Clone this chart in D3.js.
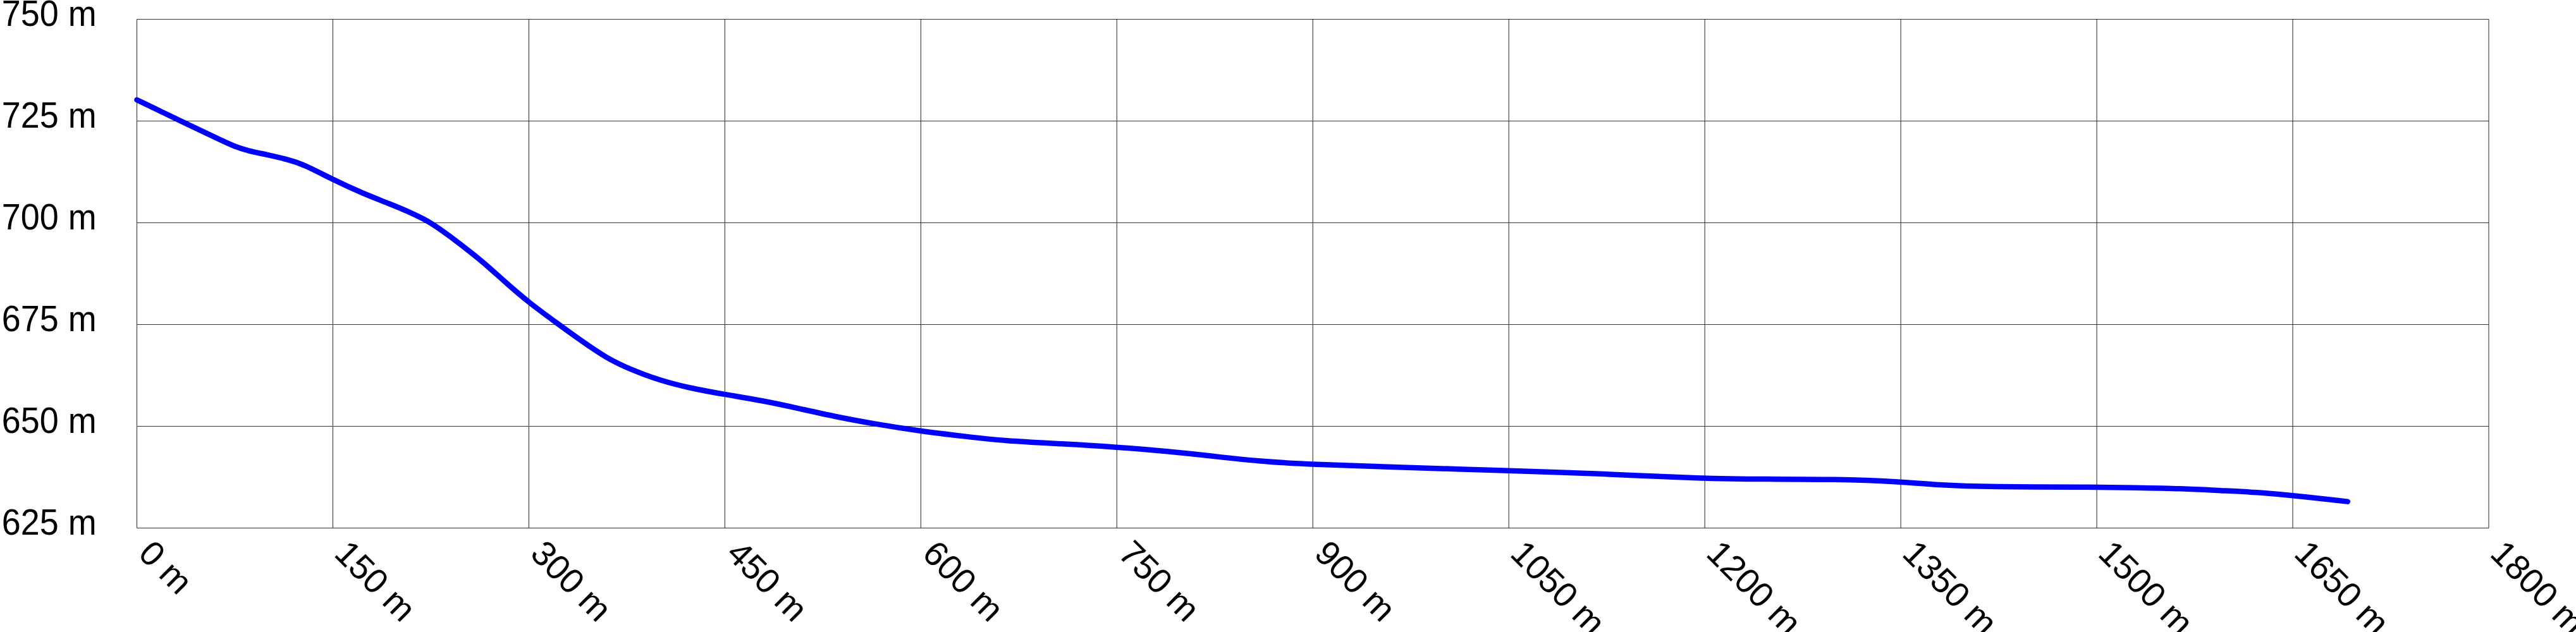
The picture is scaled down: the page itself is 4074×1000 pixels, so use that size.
<!DOCTYPE html>
<html>
<head>
<meta charset="utf-8">
<script src="https://cdn.jsdelivr.net/npm/d3@7"></script>
<style>
  html, body { margin: 0; padding: 0; background: #fff; }
  svg { display: block; }
  text { font-family: "Liberation Sans", Arial, sans-serif; fill: #000; }
</style>
</head>
<body>
<script>
// Data: distance (m) and elevation (m)
const distance = [0, 40, 65, 75, 85, 100, 116, 128, 150, 173, 194, 211, 225, 240, 255, 268, 283, 300, 323, 338, 360, 379, 401, 423, 450, 479, 505, 534, 564, 600, 634, 664, 708, 750, 790, 820, 858, 900, 960, 1050, 1117, 1200, 1247, 1299, 1350, 1376, 1420, 1492, 1530, 1565, 1595, 1623, 1650, 1692];
const elevation = [730.2, 724.0, 720.2, 718.7, 717.7, 716.7, 715.5, 714.3, 710.6, 707.2, 704.6, 702.3, 700.1, 696.6, 692.9, 689.5, 685.1, 680.4, 675.0, 671.5, 666.6, 663.8, 661.2, 659.4, 657.8, 656.3, 654.5, 652.4, 650.6, 648.8, 647.5, 646.4, 645.7, 644.9, 643.8, 642.8, 641.4, 640.6, 640.0, 639.1, 638.4, 637.1, 637.0, 637.0, 636.4, 635.6, 635.1, 635.1, 634.9, 634.7, 634.2, 633.8, 633.0, 631.5];
const xTicks = [0, 150, 300, 450, 600, 750, 900, 1050, 1200, 1350, 1500, 1650, 1800];
const yTicks = [625, 650, 675, 700, 725, 750];

(function () {
const W = 4074, H = 1000;
const pLeft = 216.5, pRight = 3936, pTop = 30.5, pBottom = 835.5;

const svg = d3.select("body").append("svg").attr("width", W).attr("height", H);
svg.append("rect").attr("width", W).attr("height", H).attr("fill", "#fff");

const x = d3.scaleLinear().domain([0, 1800]).range([pLeft, pRight]);
const y = d3.scaleLinear().domain([625, 750]).range([pBottom, pTop]);

const grid = svg.append("g");
grid.selectAll("line.v").data(xTicks).enter().append("line")
  .attr("x1", d => x(d)).attr("x2", d => x(d))
  .attr("y1", pTop).attr("y2", pBottom)
  .attr("stroke", "#000").attr("stroke-opacity", 0.8).attr("stroke-width", 1.1);
grid.selectAll("line.h").data(yTicks).enter().append("line")
  .attr("x1", pLeft).attr("x2", pRight)
  .attr("y1", d => y(d)).attr("y2", d => y(d))
  .attr("stroke", "#000").attr("stroke-opacity", 0.8).attr("stroke-width", 1.1);

svg.append("g").selectAll("text").data(yTicks).enter().append("text")
  .attr("transform", d => `translate(152.7,${y(d) + 10.8}) scale(0.93,1)`)
  .attr("text-anchor", "end")
  .attr("font-size", 58)
  .text(d => d + " m");

svg.append("g").selectAll("text").data(xTicks).enter().append("text")
  .attr("transform", d => `translate(${x(d)},${pBottom + 43}) rotate(45)`)
  .attr("text-anchor", "start")
  .attr("font-size", 55)
  .text(d => d + " m");

const pts = distance.map((d, i) => [d, elevation[i]]);
const line = d3.line().x(p => x(p[0])).y(p => y(p[1])).curve(d3.curveBasis);
svg.append("path").datum(pts)
  .attr("d", line)
  .attr("fill", "none")
  .attr("stroke", "#0000ff")
  .attr("stroke-width", 8.5)
  .attr("stroke-linecap", "round")
  .attr("stroke-linejoin", "round");
})();
</script>
</body>
</html>
